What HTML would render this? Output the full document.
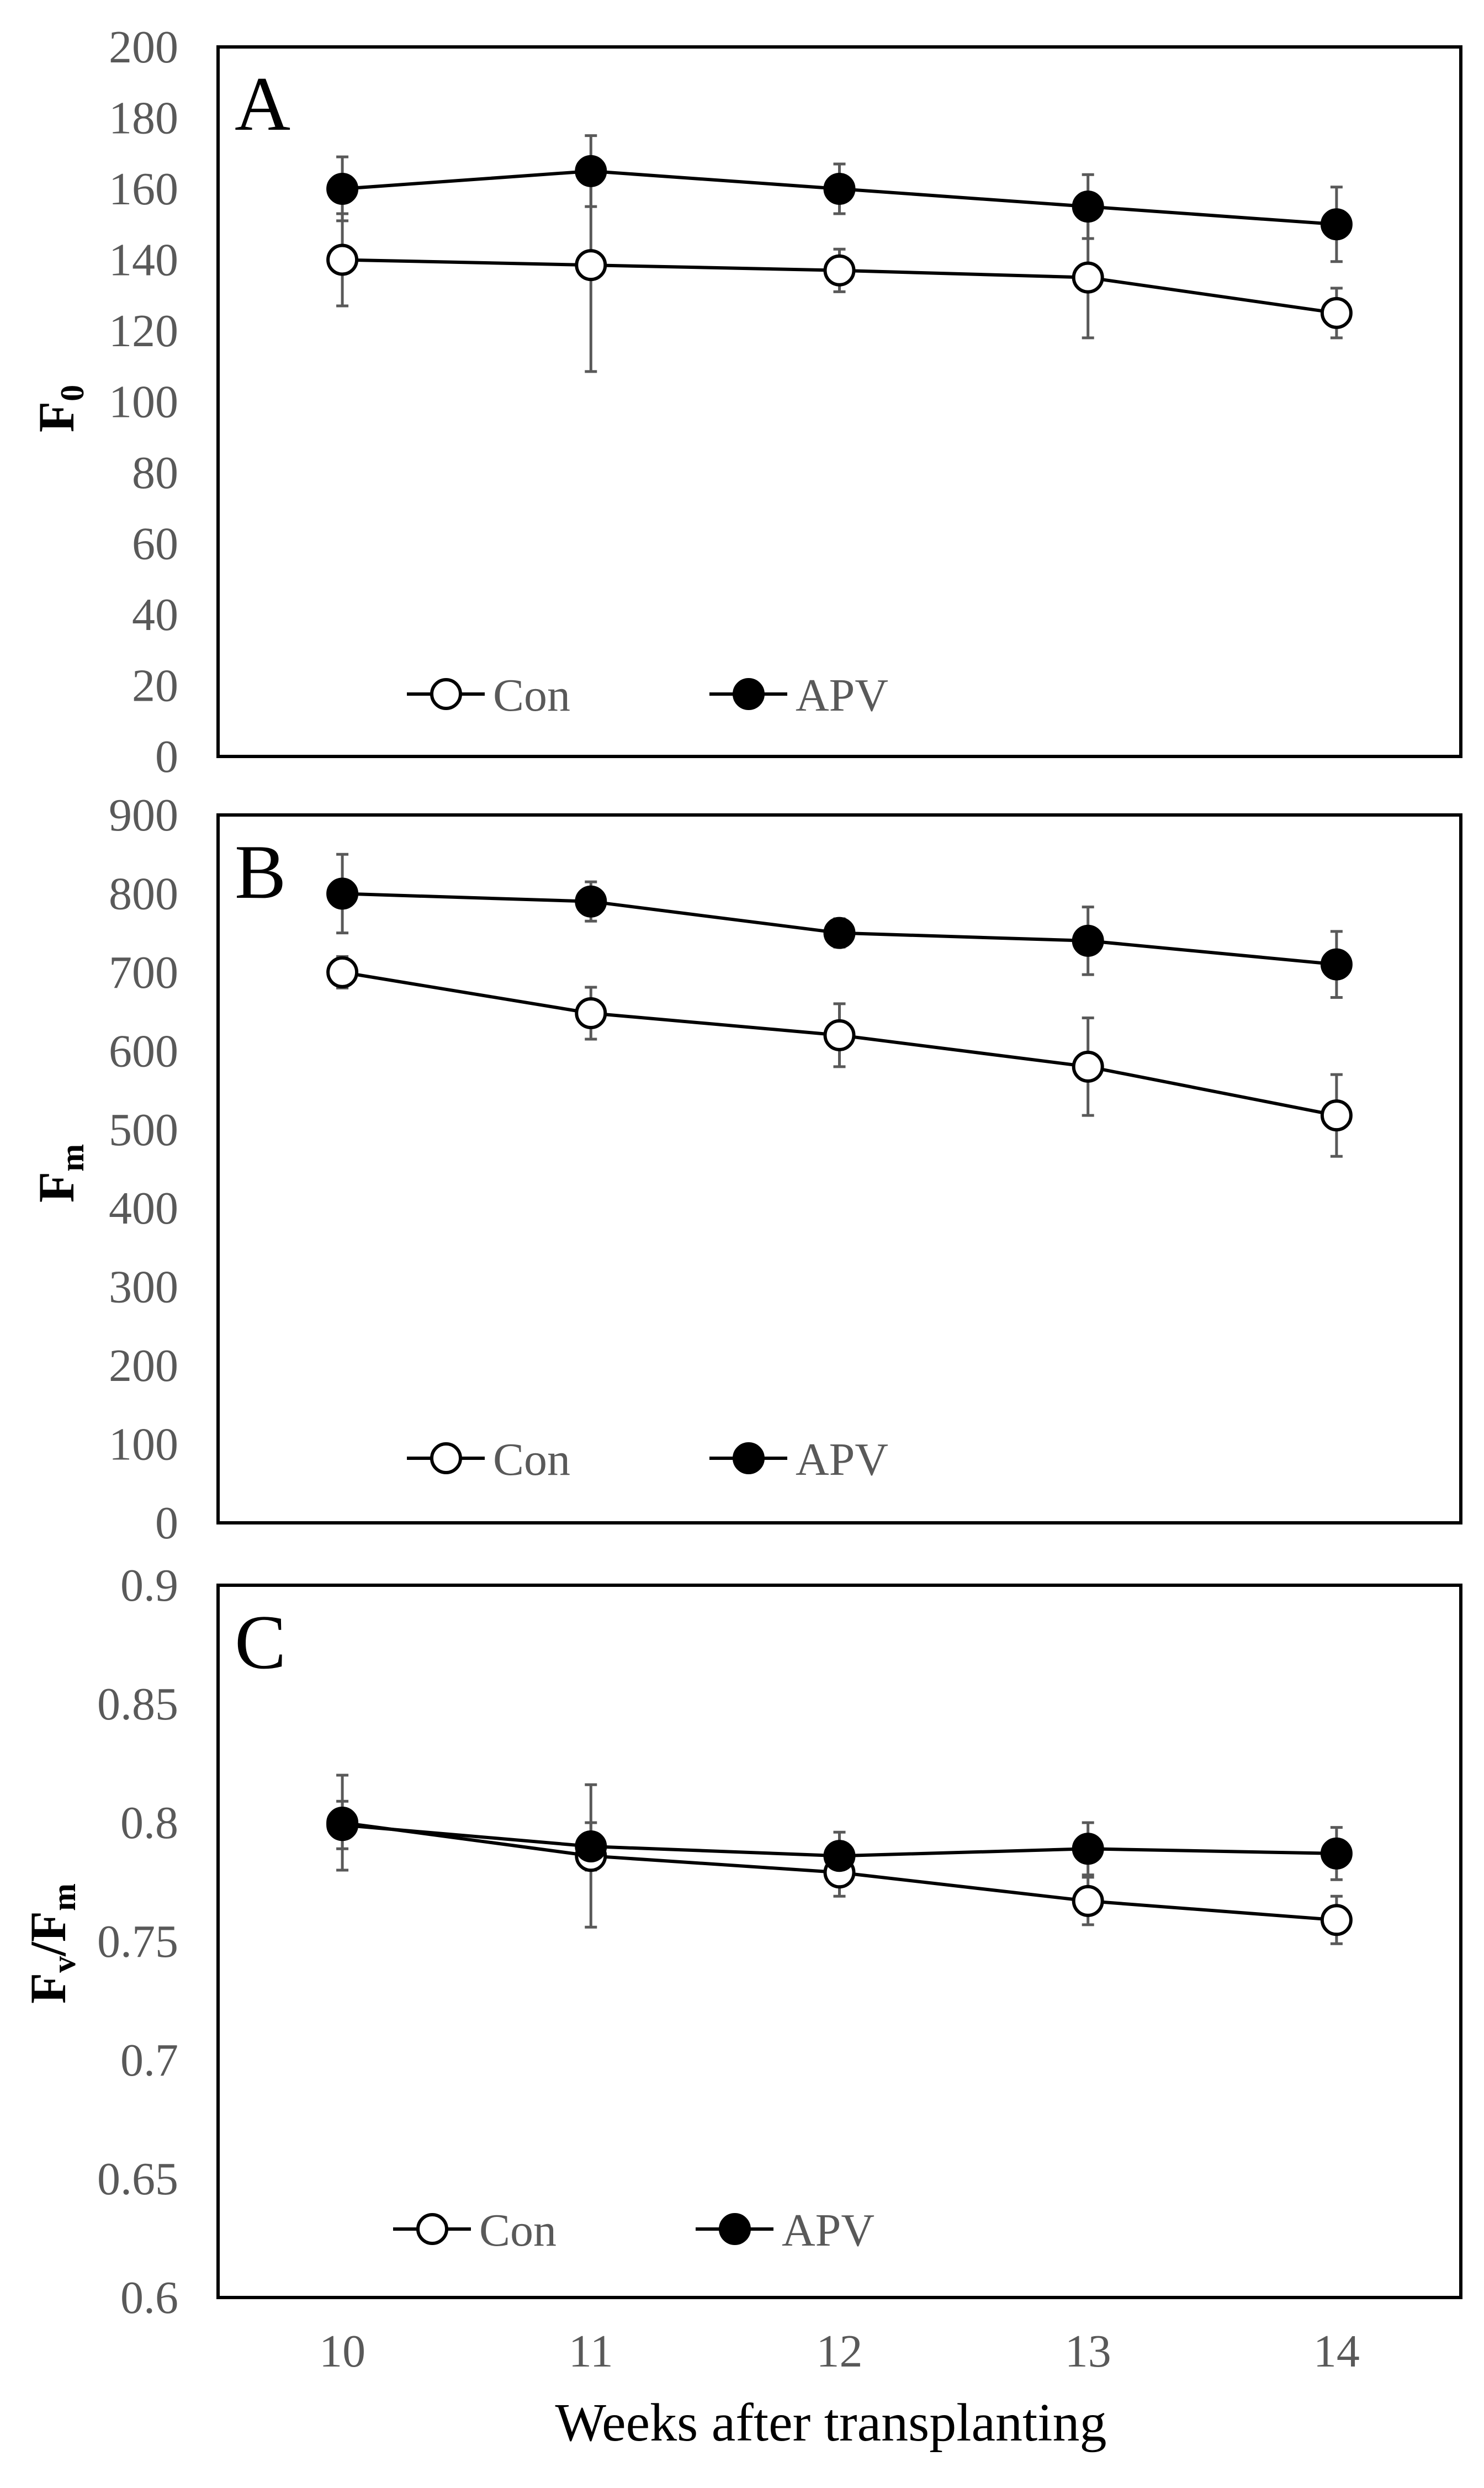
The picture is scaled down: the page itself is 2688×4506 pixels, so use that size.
<!DOCTYPE html>
<html><head><meta charset="utf-8"><style>
html,body{margin:0;padding:0;background:#fff;}
svg{display:block;}
text{font-family:"Liberation Serif",serif;}
</style></head>
<body>
<svg id="chart" width="2688" height="4506" viewBox="0 0 2688 4506" xmlns="http://www.w3.org/2000/svg"></svg>
<script>
const weeks = ["10","11","12","13","14"];
// Panel A: F0
const aCon = [140, 138.5, 137, 135, 125];
const aConErr = [13, 30, 6, 17, 7];
const aApv = [160, 165, 160, 155, 150];
const aApvErr = [9, 10, 7, 9, 10.5];
const aTicks = [0,20,40,60,80,100,120,140,160,180,200];
// Panel B: Fm
const bCon = [700, 648, 620, 580, 518];
const bConErr = [20, 33, 40, 62, 52];
const bApv = [800, 790, 750, 740, 710];
const bApvErr = [50, 25, 18, 43, 42];
const bTicks = [0,100,200,300,400,500,600,700,800,900];
// Panel C: Fv/Fm
const cCon = [0.800, 0.786, 0.779, 0.767, 0.759];
const cConErr = [0.02, 0.03, 0.01, 0.01, 0.01];
const cApv = [0.799, 0.790, 0.786, 0.789, 0.787];
const cApvErr = [0.01, 0.01, 0.01, 0.011, 0.011];
const cTicks = [0.6,0.65,0.7,0.75,0.8,0.85,0.9];
const cTickLabels = ["0.6","0.65","0.7","0.75","0.8","0.85","0.9"];

const NS = "http://www.w3.org/2000/svg";
const svg = document.getElementById("chart");
function mk(tag, attrs, parent){
  const e = document.createElementNS(NS, tag);
  for (const k in attrs) e.setAttribute(k, attrs[k]);
  (parent||svg).appendChild(e);
  return e;
}
const L = 395, R = 2646;
function xPos(i){ return L + (R-L)/weeks.length*(i+0.5); }

function panel(cfg){
  const g = mk("g", {});
  
  
  const y = v => cfg.bottom - (v - cfg.min)/(cfg.max - cfg.min)*(cfg.bottom - cfg.top);
  // ticks
  cfg.ticks.forEach((t,i)=>{
    const tx = mk("text", {x:323, y:y(t)+28, "text-anchor":"end", "font-size":84, fill:"#595959"}, g);
    tx.textContent = cfg.labels ? cfg.labels[i] : String(t);
    
    
  });
  // frame
  const fr = mk("rect", {x:L, y:cfg.top, width:R-L, height:cfg.bottom-cfg.top, fill:"none", stroke:"#000", "stroke-width":6}, g);
  
  
  // letter
  const lt = mk("text", {x:425, y:cfg.top+150, "font-size":140, fill:"#000"}, g);
  lt.textContent = cfg.letter;
  
  
  // y label
  const yl = mk("text", {transform:`translate(${cfg.ylx},${cfg.yly}) rotate(-90)`, "text-anchor":"middle", "font-size":92, "font-weight":"bold", fill:"#000"}, g);
  yl.innerHTML = cfg.ylabel;
  
  
  // series
  const series = [
    {v:cfg.con, e:cfg.conErr, fill:"#fff", name:"con"},
    {v:cfg.apv, e:cfg.apvErr, fill:"#000", name:"apv"}
  ];
  series.forEach(s=>{
    s.v.forEach((v,i)=>{
      const x = xPos(i), y1 = y(v+s.e[i]), y2 = y(v-s.e[i]);
      const eb = mk("path", {d:`M${x},${y1}V${y2}M${x-11},${y1}H${x+11}M${x-11},${y2}H${x+11}`, stroke:"#595959", "stroke-width":5, fill:"none"}, g);
      
      
    });
  });
  series.forEach(s=>{
    const pts = s.v.map((v,i)=>xPos(i)+","+y(v)).join(" ");
    const ln = mk("polyline", {points:pts, fill:"none", stroke:"#000", "stroke-width":6}, g);
    
    
  });
  series.forEach(s=>{
    s.v.forEach((v,i)=>{
      const c = mk("circle", {cx:xPos(i), cy:y(v), r:26, fill:s.fill, stroke:"#000", "stroke-width":6}, g);
      
      
    });
  });
  // legend
  const ly = cfg.legY, lx = cfg.legX;
  [["Con","#fff",0],["APV","#000",548]].forEach(([lab,f,dx])=>{
    const lg = mk("g", {}, g);
    
    
    mk("line", {x1:lx+dx, x2:lx+dx+141, y1:ly, y2:ly, stroke:"#000", "stroke-width":6}, lg);
    mk("circle", {cx:lx+dx+71, cy:ly, r:26, fill:f, stroke:"#000", "stroke-width":6}, lg);
    const t = mk("text", {x:lx+dx+156, y:ly+30, "font-size":84, fill:"#595959"}, lg);
    t.textContent = lab;
  });
}

panel({name:"panel-a-f0", letter:"A", top:85, bottom:1370, min:0, max:200, ticks:aTicks,
  con:aCon, conErr:aConErr, apv:aApv, apvErr:aApvErr,
  ylabel:'F<tspan font-size="60" dy="18">0</tspan>', ylx:133, yly:740, legX:737, legY:1257});
panel({name:"panel-b-fm", letter:"B", top:1476, bottom:2758, min:0, max:900, ticks:bTicks,
  con:bCon, conErr:bConErr, apv:bApv, apvErr:bApvErr,
  ylabel:'F<tspan font-size="60" dy="18">m</tspan>', ylx:133, yly:2125, legX:737, legY:2641});
panel({name:"panel-c-fvfm", letter:"C", top:2871, bottom:4161, min:0.6, max:0.9, ticks:cTicks, labels:cTickLabels,
  con:cCon, conErr:cConErr, apv:cApv, apvErr:cApvErr,
  ylabel:'F<tspan font-size="60" dy="18">v</tspan><tspan dy="-18">/F</tspan><tspan font-size="60" dy="18">m</tspan>', ylx:118, yly:3520, legX:712, legY:4037});

weeks.forEach((w,i)=>{
  const t = mk("text", {x:xPos(i), y:4286, "text-anchor":"middle", "font-size":84, fill:"#595959"});
  t.textContent = w;
  
  
});
const xt = mk("text", {x:1505, y:4420, "text-anchor":"middle", "font-size":98, fill:"#000"});
xt.textContent = "Weeks after transplanting";


</script>
</body></html>
